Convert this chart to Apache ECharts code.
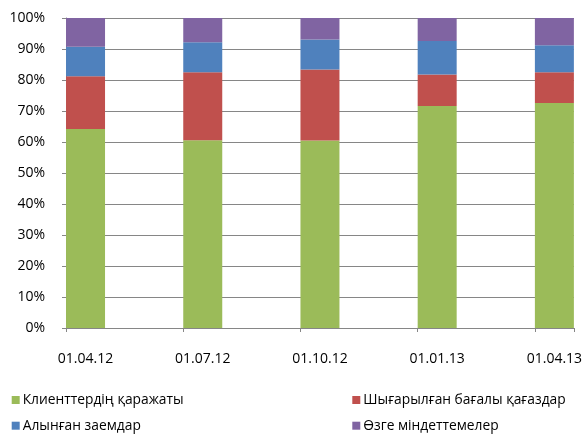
<!DOCTYPE html>
<html>
<head>
<meta charset="utf-8">
<script src="https://cdn.jsdelivr.net/npm/echarts@6/dist/echarts.min.js"></script>
<style>html,body{margin:0;padding:0;background:#fff}#c{width:585px;height:435px}</style>
</head>
<body>
<div id="c"></div>
<script>
var categories = ['01.04.12', '01.07.12', '01.10.12', '01.01.13', '01.04.13'];
var seriesNames = ['Клиенттердің қаражаты', 'Шығарылған бағалы қағаздар', 'Алынған заемдар', 'Өзге міндеттемелер'];
var clientFunds = [64.2, 60.6, 60.5, 71.6, 72.6];
var issuedSecurities = [17.0, 21.9, 22.9, 10.2, 9.9];
var borrowedLoans = [9.5, 9.7, 9.7, 10.8, 8.7];
var otherLiabilities = [9.3, 7.8, 6.9, 7.4, 8.8];
var yTicks = [0, 10, 20, 30, 40, 50, 60, 70, 80, 90, 100];

var colors = ['#9BBB59', '#C0504D', '#4F81BD', '#8064A2'];
var FONT = 'Open Sans';
var gray = '#868686';

// Each category takes 3 axis slots (bar + 2 empty gap slots); the plot ends after the last bar's slot.
var SLOTS = 3;
var slotCount = (categories.length - 1) * SLOTS + 1;
var axisSlots = [];
for (var s = 0; s < slotCount; s++) {
  axisSlots.push(s % SLOTS === 0 ? categories[s / SLOTS] : '');
}
function spread(arr) {
  var out = [];
  for (var s = 0; s < slotCount; s++) out.push(s % SLOTS === 0 ? arr[s / SLOTS] : '-');
  return out;
}

var values = [clientFunds, issuedSecurities, borrowedLoans, otherLiabilities];
var series = values.map(function (v, i) {
  return {
    name: seriesNames[i],
    type: 'bar',
    stack: 'total',
    barWidth: 39,
    data: spread(v),
    itemStyle: { color: colors[i] },
    emphasis: { disabled: true }
  };
});

var chart = echarts.init(document.getElementById('c'), null, { renderer: 'canvas' });
chart.setOption({
  animation: false,
  color: colors,
  textStyle: { fontFamily: FONT },
  grid: { left: 66, top: 18, width: 510, height: 310 },
  xAxis: {
    type: 'category', data: axisSlots, boundaryGap: true,
    axisLine: { show: true, lineStyle: { color: gray, width: 1 } },
    axisTick: {
      show: true, length: 4, lineStyle: { color: gray },
      interval: function (index) { return index % SLOTS === 0; }
    },
    axisLabel: { show: true, interval: 0, color: '#000', fontSize: 14, fontFamily: FONT, margin: 24 },
    splitLine: { show: false }
  },
  yAxis: {
    type: 'value', min: yTicks[0], max: yTicks[yTicks.length - 1], interval: 10,
    axisLine: { show: true, lineStyle: { color: gray, width: 1 } },
    axisTick: { show: true, length: 4, lineStyle: { color: gray } },
    axisLabel: { color: '#000', fontSize: 14, fontFamily: FONT, margin: 21, formatter: '{value}%' },
    splitLine: { show: true, lineStyle: { color: gray, width: 1 } }
  },
  legend: [
    {
      data: [seriesNames[0], seriesNames[2]], orient: 'vertical', left: 11.7, top: 392, padding: 0,
      itemWidth: 8, itemHeight: 8, itemGap: 9.7, icon: 'rect', selectedMode: false,
      textStyle: { fontSize: 13.8, fontFamily: FONT, color: '#000', lineHeight: 16, padding: [0, 0, 0, -2] }
    },
    {
      data: [seriesNames[1], seriesNames[3]], orient: 'vertical', left: 352.3, top: 392, padding: 0,
      itemWidth: 8, itemHeight: 8, itemGap: 9.7, icon: 'rect', selectedMode: false,
      textStyle: { fontSize: 13.8, fontFamily: FONT, color: '#000', lineHeight: 16, padding: [0, 0, 0, -2] }
    }
  ],
  series: series
});
</script>
</body>
</html>
